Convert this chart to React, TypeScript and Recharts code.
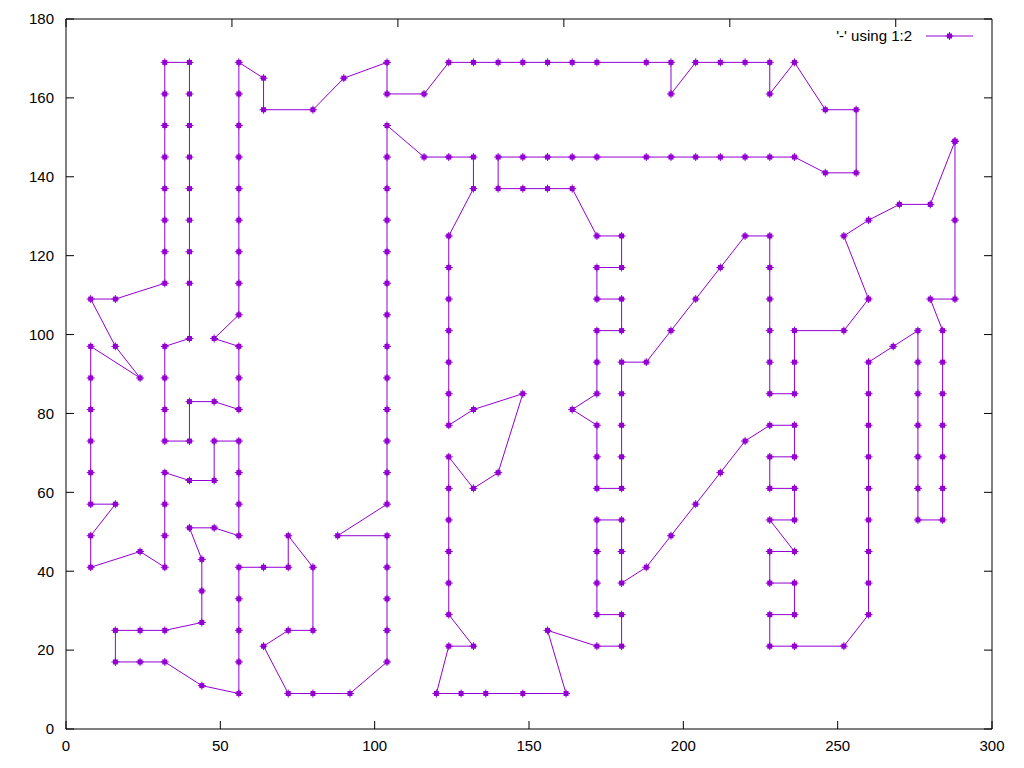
import React from 'react';
import { LineChart, Line, XAxis, YAxis } from 'recharts';

const COLOR = '#9400d3';

// Tour, split into four legs (x, y)
const tourEast: [number, number][] = [
  [288,149],[288,129],[288,109],[280,109],[284,101],[284,93],[284,85],[284,77],[284,69],[284,61],[284,53],
  [276,53],[276,61],[276,69],[276,77],[276,85],[276,93],[276,101],[268,97],[260,93],[260,85],[260,77],
  [260,69],[260,61],[260,53],[260,45],[260,37],[260,29],[252,21],[236,21],[228,21],[228,29],[236,29],
  [236,37],[228,37],[228,45],[236,45],[228,53],[236,53],[236,61],[228,61],[228,69],[236,69],[236,77],
  [228,77],[220,73],[212,65],[204,57],[196,49],[188,41],[180,37],[180,45],[180,53],[172,53],[172,45],
  [172,37],[172,29],[180,29],[180,21],[172,21],[156,25],[162,9],
];

const tourSouth: [number, number][] = [
  [148,9],[136,9],[128,9],[120,9],[124,21],[132,21],[124,29],[124,37],[124,45],[124,53],[124,61],[124,69],
  [132,61],[140,65],[148,85],[132,81],[124,77],[124,85],[124,93],[124,101],[124,109],[124,117],[124,125],
  [132,137],[132,145],[124,145],[116,145],[104,153],[104,145],[104,137],[104,129],[104,121],[104,113],
  [104,105],[104,97],[104,89],[104,81],[104,73],[104,65],[104,57],[88,49],[104,49],[104,41],[104,33],
  [104,25],[104,17],[92,9],[80,9],[72,9],[64,21],[72,25],[80,25],[80,41],[72,49],[72,41],[64,41],
];

const tourWest: [number, number][] = [
  [56,41],[56,33],[56,25],[56,17],[56,9],[44,11],[32,17],[24,17],[16,17],[16,25],[24,25],[32,25],[44,27],
  [44,35],[44,43],[40,51],[48,51],[56,49],[56,57],[56,65],[56,73],[48,73],[48,63],[40,63],[32,65],[32,57],
  [32,49],[32,41],[24,45],[8,41],[8,49],[16,57],[8,57],[8,65],[8,73],[8,81],[8,89],[8,97],[24,89],[16,97],
  [8,109],[16,109],[32,113],[32,121],[32,129],[32,137],[32,145],[32,153],[32,161],[32,169],[40,169],
  [40,161],[40,153],[40,145],[40,137],[40,129],[40,121],[40,113],[40,99],[32,97],[32,89],[32,81],[32,73],
  [40,73],[40,83],[48,83],[56,81],[56,89],[56,97],[48,99],[56,105],[56,113],[56,121],[56,129],[56,137],
  [56,145],[56,153],[56,161],[56,169],
];

const tourNorth: [number, number][] = [
  [64,165],[64,157],[80,157],[90,165],[104,169],[104,161],[116,161],[124,169],[132,169],[140,169],
  [148,169],[156,169],[164,169],[172,169],[188,169],[196,169],[196,161],[204,169],[212,169],[220,169],
  [228,169],[228,161],[236,169],[246,157],[256,157],[256,141],[246,141],[236,145],[228,145],[220,145],
  [212,145],[204,145],[196,145],[188,145],[172,145],[164,145],[156,145],[148,145],[140,145],[140,137],
  [148,137],[156,137],[164,137],[172,125],[180,125],[180,117],[172,117],[172,109],[180,109],[180,101],
  [172,101],[172,93],[172,85],[164,81],[172,77],[172,69],[172,61],[180,61],[180,69],[180,77],[180,85],
  [180,93],[188,93],[196,101],[204,109],[212,117],[220,125],[228,125],[228,117],[228,109],[228,101],
  [228,93],[228,85],[236,85],[236,93],[236,101],[252,101],[260,109],[252,125],[260,129],[270,133],
  [280,133],[288,149],
];

const xTicks = [0, 50, 100, 150, 200, 250, 300];
const yTicks = [0, 20, 40, 60, 80, 100, 120, 140, 160, 180];
const legendLabel = "'-' using 1:2";

const data = [...tourEast, ...tourSouth, ...tourWest, ...tourNorth].map(([x, y]) => ({ x, y }));

const FONT = '"Liberation Sans", Arial, sans-serif';

const Marker = (props: any) => {
  const { cx, cy, index } = props;
  if (cx == null || cy == null) return <g key={index} />;
  return (
    <g key={index}>
      <rect x={cx - 2.5} y={cy - 2.5} width={5} height={5} fill={COLOR} />
      <line x1={cx - 4} x2={cx + 4} y1={cy} y2={cy} stroke={COLOR} strokeWidth={1} />
      <line x1={cx} x2={cx} y1={cy - 4} y2={cy + 4} stroke={COLOR} strokeWidth={1} />
    </g>
  );
};

const EmptyTick = () => <g />;

export default function App() {
  const W = 1008;
  const H = 752;
  const tickStyle = { fill: '#000', fontSize: 15, fontFamily: FONT };
  return (
    <div style={{ position: 'relative', width: W, height: H }}>
      <LineChart width={W} height={H} data={data} margin={{ top: 10, right: 23, bottom: 1, left: 8 }}>
        <XAxis
          dataKey="x"
          type="number"
          domain={[0, 300]}
          ticks={xTicks}
          allowDataOverflow
          height={30}
          tickSize={-8}
          tickMargin={19}
          axisLine={{ stroke: '#000', strokeWidth: 1 }}
          tickLine={{ stroke: '#000', strokeWidth: 1 }}
          tick={tickStyle}
        />
        <XAxis
          xAxisId="top"
          orientation="top"
          type="number"
          domain={[0, 300]}
          ticks={xTicks}
          allowDataOverflow
          height={1}
          tickSize={-8}
          axisLine={{ stroke: '#000', strokeWidth: 1 }}
          tickLine={{ stroke: '#000', strokeWidth: 1 }}
          tick={EmptyTick}
        />
        <YAxis
          type="number"
          domain={[0, 180]}
          ticks={yTicks}
          allowDataOverflow
          width={50}
          tickSize={-8}
          tickMargin={20}
          axisLine={{ stroke: '#000', strokeWidth: 1 }}
          tickLine={{ stroke: '#000', strokeWidth: 1 }}
          tick={tickStyle}
        />
        <YAxis
          yAxisId="right"
          orientation="right"
          type="number"
          domain={[0, 180]}
          ticks={yTicks}
          allowDataOverflow
          width={1}
          tickSize={-8}
          axisLine={{ stroke: '#000', strokeWidth: 1 }}
          tickLine={{ stroke: '#000', strokeWidth: 1 }}
          tick={EmptyTick}
        />
        <Line
          dataKey="y"
          stroke={COLOR}
          strokeWidth={1}
          dot={Marker}
          activeDot={false}
          isAnimationActive={false}
        />
      </LineChart>
      <svg
        width={W}
        height={H}
        style={{ position: 'absolute', left: 0, top: 0, pointerEvents: 'none' }}
      >
        <text x={904} y={33} textAnchor="end" fontSize={15} fontFamily={FONT} fill="#000">
          {legendLabel}
        </text>
        <line x1={918} x2={965} y1={28} y2={28} stroke={COLOR} strokeWidth={1} />
        <rect x={939} y={25.5} width={5} height={5} fill={COLOR} />
        <line x1={937.5} x2={945.5} y1={28} y2={28} stroke={COLOR} />
        <line x1={941.5} x2={941.5} y1={24} y2={32} stroke={COLOR} />
      </svg>
    </div>
  );
}
